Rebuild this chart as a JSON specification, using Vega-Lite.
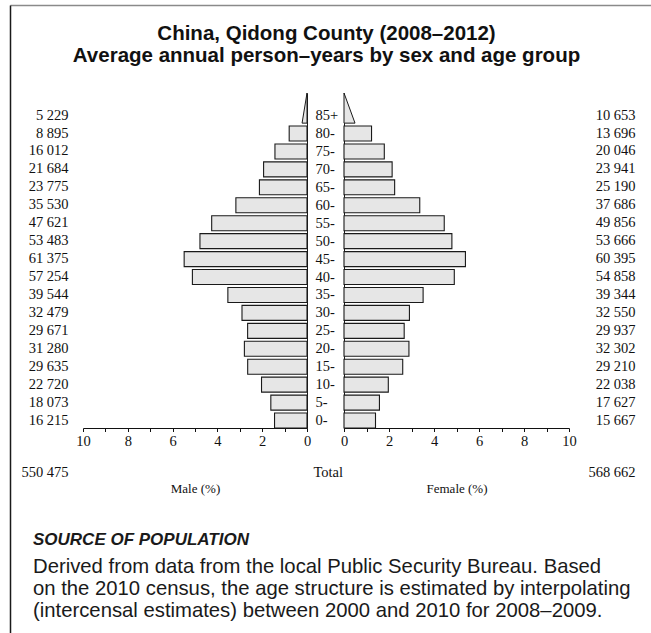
{
  "$schema": "https://vega.github.io/schema/vega-lite/v6.json",
  "width": 641,
  "height": 628,
  "autosize": {"type": "none"},
  "padding": {"left": 10, "top": 5, "right": 0, "bottom": 0},
  "background": "white",
  "config": {"view": {"stroke": null}, "font": "Liberation Serif"},
  "datasets": {
    "pyr": [
      {"age": "85+", "mlab": "5 229", "flab": "10 653", "m": 0.467, "f": 0.952},
      {"age": "80-", "mlab": "8 895", "flab": "13 696", "m": 0.795, "f": 1.224},
      {"age": "75-", "mlab": "16 012", "flab": "20 046", "m": 1.431, "f": 1.791},
      {"age": "70-", "mlab": "21 684", "flab": "23 941", "m": 1.938, "f": 2.139},
      {"age": "65-", "mlab": "23 775", "flab": "25 190", "m": 2.124, "f": 2.251},
      {"age": "60-", "mlab": "35 530", "flab": "37 686", "m": 3.175, "f": 3.367},
      {"age": "55-", "mlab": "47 621", "flab": "49 856", "m": 4.255, "f": 4.455},
      {"age": "50-", "mlab": "53 483", "flab": "53 666", "m": 4.779, "f": 4.795},
      {"age": "45-", "mlab": "61 375", "flab": "60 395", "m": 5.484, "f": 5.397},
      {"age": "40-", "mlab": "57 254", "flab": "54 858", "m": 5.116, "f": 4.902},
      {"age": "35-", "mlab": "39 544", "flab": "39 344", "m": 3.533, "f": 3.516},
      {"age": "30-", "mlab": "32 479", "flab": "32 550", "m": 2.902, "f": 2.908},
      {"age": "25-", "mlab": "29 671", "flab": "29 937", "m": 2.651, "f": 2.675},
      {"age": "20-", "mlab": "31 280", "flab": "32 302", "m": 2.795, "f": 2.886},
      {"age": "15-", "mlab": "29 635", "flab": "29 210", "m": 2.648, "f": 2.610},
      {"age": "10-", "mlab": "22 720", "flab": "22 038", "m": 2.030, "f": 1.969},
      {"age": "5-", "mlab": "18 073", "flab": "17 627", "m": 1.615, "f": 1.575},
      {"age": "0-", "mlab": "16 215", "flab": "15 667", "m": 1.449, "f": 1.400}
    ],
    "tri": [
      {"sex": "Male", "age": 85.4, "pct": 0.22},
      {"sex": "Male", "age": 93.8, "pct": 0},
      {"sex": "Female", "age": 85.4, "pct": 0.49},
      {"sex": "Female", "age": 93.8, "pct": 0}
    ],
    "frame": [{"k": 0}]
  },
  "title": {
    "text": "SOURCE OF POPULATION",
    "subtitle": [
      "Derived from data from the local Public Security Bureau. Based",
      "on the 2010 census, the age structure is estimated by interpolating",
      "(intercensal estimates) between 2000 and 2010 for 2008–2009."
    ],
    "orient": "top",
    "anchor": "start",
    "frame": "group",
    "offset": -617,
    "dx": 23,
    "font": "Liberation Sans",
    "fontSize": 17,
    "fontStyle": "italic",
    "fontWeight": "bold",
    "color": "#1a1a1a",
    "subtitleFont": "Liberation Sans",
    "subtitleFontSize": 20.3,
    "subtitleLineHeight": 21.7,
    "subtitleColor": "#1a1a1a",
    "subtitlePadding": 8
  },
  "layer": [
    {
      "data": {"name": "frame"},
      "mark": {"type": "point", "opacity": 0},
      "encoding": {
        "x": {
          "datum": 0, "type": "quantitative",
          "scale": {"domain": [0, 1]},
          "axis": {
            "orient": "top", "domain": true, "domainColor": "#8a8a8a", "domainWidth": 1.5,
            "ticks": false, "labels": false, "grid": false,
            "title": ["China, Qidong County (2008–2012)", "Average annual person–years by sex and age group"],
            "titleFont": "Liberation Sans", "titleFontSize": 20.5, "titleFontWeight": "bold",
            "titleColor": "#111111", "titleLineHeight": 22, "titleX": 316, "titleY": 34,
            "titleAlign": "center", "titleBaseline": "alphabetic", "titleAngle": 0
          }
        },
        "y": {
          "datum": 0, "type": "quantitative",
          "scale": {"domain": [0, 1]},
          "axis": {
            "orient": "left", "domain": true, "domainColor": "#1a1a1a", "domainWidth": 1.5,
            "ticks": false, "labels": false, "grid": false, "title": null
          }
        }
      }
    },
    {
      "data": {"name": "pyr"},
      "transform": [{"filter": "datum.age != '85+'"}],
      "mark": {"type": "bar", "fill": "#e6e6e6", "stroke": "#1a1a1a", "strokeWidth": 1.1},
      "encoding": {
        "y": {
          "field": "mlab", "type": "nominal",
          "scale": {
            "domain": ["5 229", "8 895", "16 012", "21 684", "23 775", "35 530", "47 621", "53 483", "61 375", "57 254", "39 544", "32 479", "29 671", "31 280", "29 635", "22 720", "18 073", "16 215"],
            "range": [101.6, 424.5], "paddingInner": 0.164, "paddingOuter": 0.082
          },
          "axis": {
            "orient": "left", "domain": false, "ticks": false, "tickSize": 0, "grid": false,
            "labelPadding": -58, "labelAlign": "right", "labelBaseline": "middle",
            "labelFont": "Liberation Serif", "labelFontSize": 14.5, "labelColor": "#111111",
            "title": "550 475", "titleAngle": 0, "titleX": 58, "titleY": 467,
            "titleAlign": "right", "titleBaseline": "middle", "titleFont": "Liberation Serif",
            "titleFontWeight": "normal", "titleFontSize": 14.5, "titleColor": "#111111"
          }
        },
        "x": {
          "field": "m", "type": "quantitative",
          "scale": {"domain": [0, 10], "range": [297, 73]},
          "axis": {
            "orient": "bottom", "offset": -205, "grid": false,
            "values": [0, 1, 2, 3, 4, 5, 6, 7, 8, 9, 10],
            "labelExpr": "datum.value % 2 == 0 ? datum.label : ''",
            "tickSize": 3.5, "tickColor": "#111111", "domainColor": "#111111",
            "labelFont": "Liberation Serif", "labelFontSize": 14.5, "labelColor": "#111111",
            "labelPadding": 3, "labelFlush": false,
            "title": "Male (%)", "titleFont": "Liberation Serif", "titleFontWeight": "normal",
            "titleFontSize": 13, "titleColor": "#111111", "titleY": 60, "titleBaseline": "middle"
          }
        },
        "x2": {"datum": 0}
      }
    },
    {
      "data": {"name": "pyr"},
      "transform": [{"filter": "datum.age != '85+'"}],
      "mark": {"type": "bar", "fill": "#e6e6e6", "stroke": "#1a1a1a", "strokeWidth": 1.1},
      "encoding": {
        "y": {
          "field": "flab", "type": "nominal",
          "scale": {
            "domain": ["10 653", "13 696", "20 046", "23 941", "25 190", "37 686", "49 856", "53 666", "60 395", "54 858", "39 344", "32 550", "29 937", "32 302", "29 210", "22 038", "17 627", "15 667"],
            "range": [101.6, 424.5], "paddingInner": 0.164, "paddingOuter": 0.082
          },
          "axis": {
            "orient": "right", "domain": false, "ticks": false, "tickSize": 0, "grid": false,
            "labelPadding": -16, "labelAlign": "right", "labelBaseline": "middle",
            "labelFont": "Liberation Serif", "labelFontSize": 14.5, "labelColor": "#111111",
            "title": "568 662", "titleAngle": 0, "titleX": -16, "titleY": 467,
            "titleAlign": "right", "titleBaseline": "middle", "titleFont": "Liberation Serif",
            "titleFontWeight": "normal", "titleFontSize": 14.5, "titleColor": "#111111"
          }
        },
        "x": {
          "field": "f", "type": "quantitative",
          "scale": {"domain": [0, 10], "range": [334, 559]},
          "axis": {
            "orient": "bottom", "offset": -205, "grid": false,
            "values": [0, 1, 2, 3, 4, 5, 6, 7, 8, 9, 10],
            "labelExpr": "datum.value % 2 == 0 ? datum.label : ''",
            "tickSize": 3.5, "tickColor": "#111111", "domainColor": "#111111",
            "labelFont": "Liberation Serif", "labelFontSize": 14.5, "labelColor": "#111111",
            "labelPadding": 3, "labelFlush": false,
            "title": "Female (%)", "titleFont": "Liberation Serif", "titleFontWeight": "normal",
            "titleFontSize": 13, "titleColor": "#111111", "titleY": 60, "titleBaseline": "middle"
          }
        },
        "x2": {"datum": 0}
      }
    },
    {
      "data": {"name": "tri"},
      "transform": [{"filter": "datum.sex == 'Male'"}],
      "mark": {"type": "area", "orient": "horizontal", "fill": "#e6e6e6", "stroke": "#1a1a1a", "strokeWidth": 1},
      "encoding": {
        "y": {
          "field": "age", "type": "quantitative",
          "scale": {"domain": [0.4, 93.8], "range": [423.1, 88], "zero": false, "nice": false},
          "axis": {
            "orient": "left", "offset": -297, "domain": true, "domainColor": "#1a1a1a",
            "ticks": false, "labels": false, "grid": false, "title": null
          }
        },
        "x": {
          "field": "pct", "type": "quantitative",
          "scale": {"domain": [0, 10], "range": [297, 73]},
          "axis": null
        },
        "x2": {"datum": 0}
      }
    },
    {
      "data": {"name": "tri"},
      "transform": [{"filter": "datum.sex == 'Female'"}],
      "mark": {"type": "area", "orient": "horizontal", "fill": "#e6e6e6", "stroke": "#1a1a1a", "strokeWidth": 1},
      "encoding": {
        "y": {
          "field": "age", "type": "quantitative",
          "scale": {"domain": [0.4, 93.8], "range": [423.1, 88], "zero": false, "nice": false},
          "axis": {
            "orient": "left", "offset": -334, "domain": true, "domainColor": "#1a1a1a",
            "ticks": false, "tickSize": 0, "grid": false,
            "values": [2.5, 7.5, 12.5, 17.5, 22.5, 27.5, 32.5, 37.5, 42.5, 47.5, 52.5, 57.5, 62.5, 67.5, 72.5, 77.5, 82.5, 87.5],
            "labelExpr": "datum.value > 85 ? '85+' : format(datum.value - 2.5, 'd') + '-'",
            "labelAlign": "left", "labelBaseline": "middle", "labelPadding": 29,
            "labelFont": "Liberation Serif", "labelFontSize": 14.5, "labelColor": "#111111",
            "title": "Total", "titleAngle": 0, "titleX": -31, "titleY": 467,
            "titleAlign": "left", "titleBaseline": "middle", "titleFont": "Liberation Serif",
            "titleFontWeight": "normal", "titleFontSize": 14.5, "titleColor": "#111111"
          }
        },
        "x": {
          "field": "pct", "type": "quantitative",
          "scale": {"domain": [0, 10], "range": [334, 559]},
          "axis": null
        },
        "x2": {"datum": 0}
      }
    }
  ],
  "resolve": {
    "scale": {"x": "independent", "y": "independent"},
    "axis": {"x": "independent", "y": "independent"}
  }
}
